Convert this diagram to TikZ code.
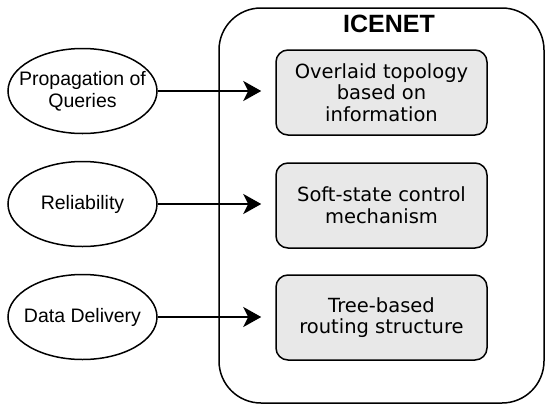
\documentclass[tikz,border=0pt]{standalone}
\usepackage{fontspec}
\setmainfont{Liberation Sans}
\newfontfamily\boxfont{DejaVu Sans}
\usepackage{xcolor}
\usepackage{tikz}
\usetikzlibrary{arrows.meta, positioning, shapes.geometric}
\definecolor{boxgray}{HTML}{E8E8E8}

\begin{document}
\begin{tikzpicture}[
  x=1pt, y=-1pt,
  frame/.style={draw, line width=1.5pt, rounded corners=42pt,
    minimum width=325pt, minimum height=395pt, inner sep=0pt},
  title/.style={font=\fontsize{25}{30}\selectfont\bfseries},
  feature/.style={ellipse, draw, line width=1.5pt, align=center,
    minimum width=149pt, minimum height=85pt, inner sep=-15pt,
    font=\fontsize{19.5}{22}\selectfont},
  part/.style={draw, line width=1.5pt, fill=boxgray, rounded corners=12pt,
    minimum width=211pt, minimum height=85pt, inner sep=0pt, align=center,
    font=\boxfont\fontsize{19.5}{21.7}\selectfont},
  link/.style={-{Stealth[length=18pt, width=20pt, inset=5pt]},
    line width=2.5pt, shorten >=14pt},
]
  \useasboundingbox (0,0) rectangle (550,413);

  %% ICENET frame
  \node[frame] (icenet) at (381.5,205.5) {};
  \node[title] (head) at (389,24) {ICENET};

  %% Components
  \node[part] (overlay) at (381.5,92.5) {Overlaid topology\\based on\\information};
  \node[part] (softstate) at (381.5,205.5) {Soft-state control\\mechanism};
  \node[part] (tree) at (381.5,317.5) {Tree-based\\routing structure};

  %% Features
  \node[feature] (prop) at (82.5,91) {Propagation of\\Queries};
  \node[feature] (reliab) at (82.5,204) {Reliability};
  \node[feature] (delivery) at (82.5,317) {Data Delivery};

  %% Arrows
  \draw[link] (prop.east) -- (prop.east -| overlay.west);
  \draw[link] (reliab.east) -- (reliab.east -| softstate.west);
  \draw[link] (delivery.east) -- (delivery.east -| tree.west);
\end{tikzpicture}
\end{document}
